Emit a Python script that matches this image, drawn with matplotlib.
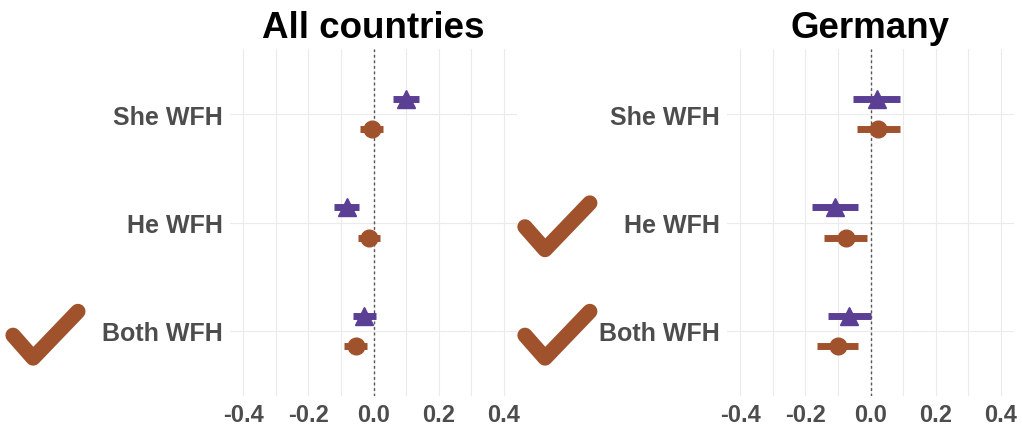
import matplotlib.pyplot as plt
import matplotlib.transforms as mtransforms

# data
rows = ["Both WFH", "He WFH", "She WFH"]
panels = ["All countries", "Germany"]

# triangles (purple) and circles (brown): estimate, lower, upper
tri_est = {"All countries": [-0.028, -0.080, 0.101], "Germany": [-0.065, -0.109, 0.019]}
tri_lo = {"All countries": [-0.064, -0.120, 0.061], "Germany": [-0.131, -0.180, -0.053]}
tri_hi = {"All countries": [0.009, -0.043, 0.141], "Germany": [0.000, -0.039, 0.090]}
cir_est = {"All countries": [-0.055, -0.015, -0.006], "Germany": [-0.100, -0.075, 0.024]}
cir_lo = {"All countries": [-0.089, -0.048, -0.040], "Germany": [-0.164, -0.142, -0.042]}
cir_hi = {"All countries": [-0.021, 0.020, 0.028], "Germany": [-0.037, -0.011, 0.090]}

# rows that get a check mark
checks = {"All countries": ["Both WFH"], "Germany": ["He WFH", "Both WFH"]}

xticks = [-0.4, -0.2, 0.0, 0.2, 0.4]
purple = "#5B3F94"
brown = "#A0522D"
grey = "#4D4D4D"

fig = plt.figure(figsize=(10.22, 4.27), dpi=100)
plt.rcParams['font.family'] = ['Liberation Sans', 'DejaVu Sans']

lefts = [230 / 1022, 727 / 1022]
off = 0.14

for name, left in zip(panels, lefts):
    ax = fig.add_axes([left, 30 / 427, 287 / 1022, 347 / 427])
    ypos = list(range(1, len(rows) + 1))
    ax.set_xlim(-0.44, 0.44)
    ax.set_ylim(0.4, 3.6)

    ax.set_xticks([i / 10 for i in range(-4, 5)], minor=True)
    ax.set_xticks(xticks)
    ax.set_xticklabels(["%.1f" % t for t in xticks], fontsize=17, fontweight="bold", color=grey)
    ax.set_yticks(ypos)
    ax.set_yticklabels(rows, fontsize=18, fontweight="bold", color=grey)
    ax.tick_params(length=0, pad=5)
    ax.tick_params(axis="x", which="minor", length=0)
    for s in ax.spines.values():
        s.set_visible(False)
    ax.grid(True, which="both", color="#EBEBEB", linewidth=0.8)
    ax.set_axisbelow(True)
    ax.axvline(0, color="#555555", linewidth=1, dashes=(2, 2), zorder=1)

    yt = [y + off for y in ypos]
    yc = [y - off for y in ypos]
    ax.hlines(yt, tri_lo[name], tri_hi[name], color=purple, linewidth=5, zorder=2)
    ax.plot(tri_est[name], yt, "^", color=purple, markersize=13, linestyle="none", zorder=3)
    ax.hlines(yc, cir_lo[name], cir_hi[name], color=brown, linewidth=5, zorder=2)
    ax.plot(cir_est[name], yc, "o", color=brown, markersize=12, linestyle="none", zorder=3)

    ax.set_title(name, fontsize=26.5, fontweight="bold", pad=9)

    # check marks next to the labels
    tr = mtransforms.blended_transform_factory(ax.transAxes, ax.transData)
    x0 = -0.756 if name == "All countries" else -0.704
    for r in checks[name]:
        y = rows.index(r) + 1
        ax.plot([x0, x0 + 0.07, x0 + 0.226], [y - 0.04, y - 0.25, y + 0.18],
                color=brown, linewidth=11, solid_capstyle="round",
                solid_joinstyle="round", transform=tr, clip_on=False)

fig.savefig("out.png", dpi=100)
